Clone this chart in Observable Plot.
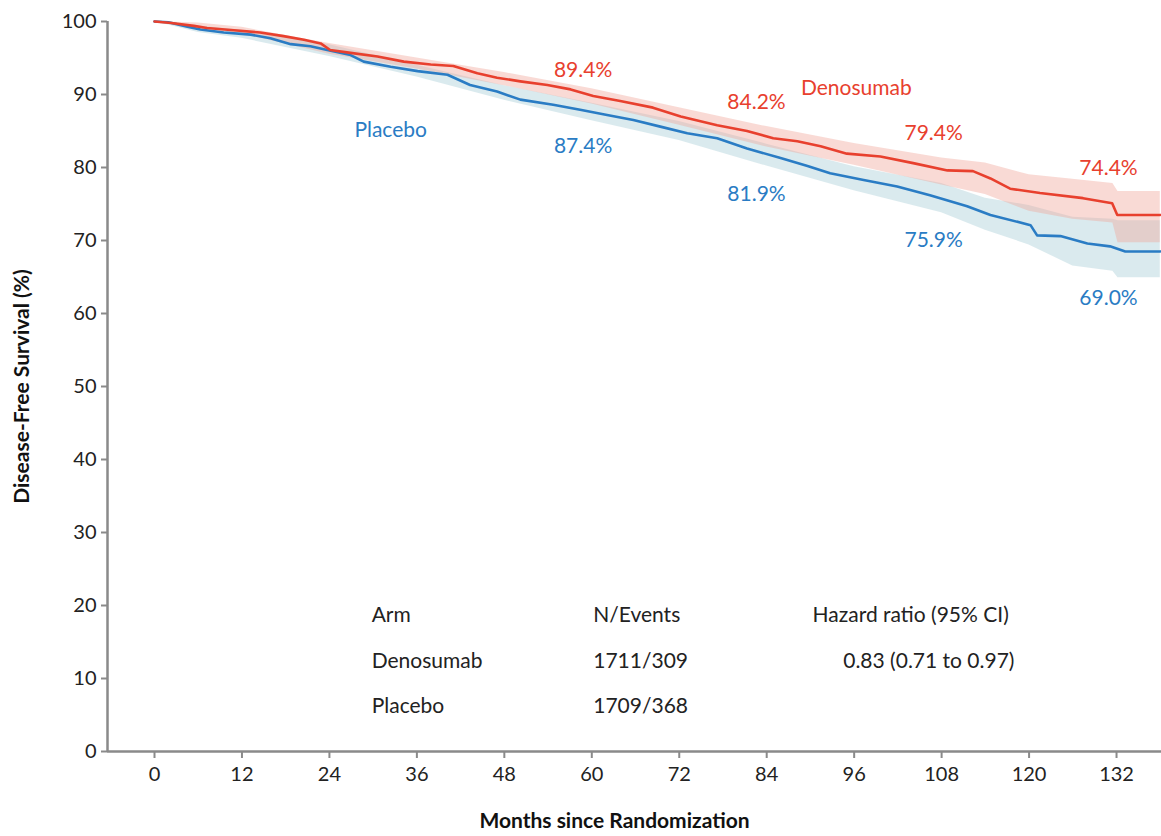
<!DOCTYPE html>
<html>
<head>
<meta charset="utf-8">
<script src="https://cdn.jsdelivr.net/npm/d3@7"></script>
<script src="https://cdn.jsdelivr.net/npm/@observablehq/plot@0.6"></script>
<style>
  html, body { margin: 0; padding: 0; background: #fff; }
  #chart svg { display: block; }
</style>
</head>
<body>
<div id="chart"></div>
<script>
// ---- Data ----
const denoMonths = [0, 2.3, 5.4, 7.2, 10.9, 14.5, 17.7, 20.5, 22.8, 24.1, 26.9, 30.6, 34.2, 37.9, 41.0, 44.3, 47.0, 50.2, 53.9, 57.1, 60.2, 63.9, 68.4, 72.2, 77.2, 81.3, 84.9, 88.2, 91.4, 95.0, 99.6, 104.1, 108.8, 112.3, 114.7, 117.4, 121.5, 127.4, 131.4, 132.1, 138];
const denoSurv   = [100, 99.8, 99.4, 99.1, 98.8, 98.5, 98.0, 97.5, 97.0, 96.1, 95.7, 95.2, 94.5, 94.1, 93.9, 92.9, 92.3, 91.8, 91.3, 90.7, 89.8, 89.1, 88.2, 87.0, 85.8, 85.0, 84.0, 83.6, 82.9, 81.9, 81.5, 80.6, 79.6, 79.5, 78.5, 77.1, 76.5, 75.8, 75.1, 73.5, 73.5];

const placeboMonths = [0, 1.9, 4.5, 6.3, 9.5, 13.2, 15.9, 18.7, 21.4, 23.7, 26.9, 28.7, 32.4, 36.1, 40.2, 43.3, 47.0, 50.2, 54.7, 58.4, 62.1, 65.7, 69.4, 73.1, 77.2, 81.3, 85.9, 89.6, 92.7, 97.3, 101.9, 106.4, 111.5, 114.7, 120.2, 121.1, 124.3, 128.0, 131.1, 133.2, 138];
const placeboSurv   = [100, 99.9, 99.3, 98.9, 98.5, 98.2, 97.7, 96.9, 96.6, 96.1, 95.4, 94.5, 93.8, 93.2, 92.7, 91.3, 90.4, 89.3, 88.6, 87.9, 87.2, 86.5, 85.6, 84.7, 84.0, 82.6, 81.3, 80.2, 79.2, 78.3, 77.4, 76.2, 74.7, 73.5, 72.1, 70.7, 70.6, 69.6, 69.2, 68.5, 68.5];

// 95% confidence bands
const ciMonths     = [0, 6, 12, 24, 36, 48, 60, 72, 84, 96, 108, 114, 120, 126, 131.5, 132.2, 138];
const denoLower    = [100, 99.1, 98.3, 95.5, 93.5, 91.2, 88.7, 85.8, 82.8, 80.3, 77.6, 76.3, 74.0, 72.9, 72.4, 69.7, 69.7];
const denoUpper    = [100, 99.8, 99.2, 97.0, 95.0, 93.0, 90.8, 88.2, 85.6, 83.3, 81.3, 80.6, 79.0, 78.4, 77.8, 76.7, 76.7];
const placeboLower = [100, 98.5, 97.7, 95.2, 92.4, 89.2, 86.4, 83.7, 80.2, 76.8, 73.8, 71.4, 69.4, 66.5, 65.8, 64.9, 64.9];
const placeboUpper = [100, 99.4, 98.8, 96.8, 94.0, 91.2, 88.8, 86.3, 83.2, 80.1, 77.8, 75.8, 74.8, 73.2, 72.9, 72.7, 72.7];

// Landmark annotations (month, survival position, text)
const denoLabelText  = ["89.4%", "84.2%", "79.4%", "74.4%", "Denosumab"];
const denoLabelX     = [58.8, 82.6, 106.9, 130.9, 96.3];
const denoLabelY     = [93.3, 89.0, 84.7, 79.9, 90.8];
const placeboLabelText = ["87.4%", "81.9%", "75.9%", "69.0%", "Placebo"];
const placeboLabelX    = [58.8, 82.6, 106.9, 130.9, 32.4];
const placeboLabelY    = [82.9, 76.4, 70.0, 62.1, 85.1];

// Summary table
const tableHeaders = ["Arm", "N/Events", "Hazard ratio (95% CI)"];
const tableArms    = ["Denosumab", "Placebo"];
const tableEvents  = ["1711/309", "1709/368"];
const tableHR      = ["0.83 (0.71 to 0.97)", ""];
const tableColX    = [29.8, 60.2, 90.3];
const tableHRX     = 94.5;
const tableRowY    = [18.6, 12.3, 6.2];

const xTicks = [0, 12, 24, 36, 48, 60, 72, 84, 96, 108, 120, 132];
const yTicks = [0, 10, 20, 30, 40, 50, 60, 70, 80, 90, 100];

// ---- Build tables ----
const deno = denoMonths.map((m, i) => ({m, s: denoSurv[i]}));
const placebo = placeboMonths.map((m, i) => ({m, s: placeboSurv[i]}));
const denoCI = ciMonths.map((m, i) => ({m, lo: denoLower[i], hi: denoUpper[i]}));
const placeboCI = ciMonths.map((m, i) => ({m, lo: placeboLower[i], hi: placeboUpper[i]}));
const denoLabels = denoLabelText.map((t, i) => ({t, x: denoLabelX[i], y: denoLabelY[i]}));
const placeboLabels = placeboLabelText.map((t, i) => ({t, x: placeboLabelX[i], y: placeboLabelY[i]}));

const tableCells = [];
tableHeaders.forEach((t, i) => tableCells.push({t, x: tableColX[i], y: tableRowY[0]}));
tableArms.forEach((t, i) => tableCells.push({t, x: tableColX[0], y: tableRowY[i + 1]}));
tableEvents.forEach((t, i) => tableCells.push({t, x: tableColX[1], y: tableRowY[i + 1]}));
tableHR.forEach((t, i) => { if (t) tableCells.push({t, x: tableHRX, y: tableRowY[i + 1]}); });

const RED = "#e8402e";
const BLUE = "#2a7cc4";
const AXIS = "#8a8a8a";
const X0 = -6.45, X1 = 138.17;

const chart = Plot.plot({
  width: 1161,
  height: 836,
  marginLeft: 107,
  marginRight: 0,
  marginTop: 21,
  marginBottom: 85,
  style: {fontFamily: "Lato, 'Open Sans', sans-serif", fontSize: "19px", color: "#222", background: "#fff"},
  x: {domain: [X0, X1]},
  y: {domain: [0, 100]},
  marks: [
    Plot.areaY(placeboCI, {x: "m", y1: "lo", y2: "hi", fill: "#b5d6de", fillOpacity: 0.5}),
    Plot.areaY(denoCI, {x: "m", y1: "lo", y2: "hi", fill: "#f0a89c", fillOpacity: 0.42}),
    Plot.line(placebo, {x: "m", y: "s", stroke: BLUE, strokeWidth: 2.6}),
    Plot.line(deno, {x: "m", y: "s", stroke: RED, strokeWidth: 2.6}),
    Plot.text(denoLabels, {x: "x", y: "y", text: "t", fill: RED, fontSize: 21}),
    Plot.text(placeboLabels, {x: "x", y: "y", text: "t", fill: BLUE, fontSize: 21}),
    Plot.text(tableCells, {x: "x", y: "y", text: "t", textAnchor: "start", fill: "#222", fontSize: 21}),
    Plot.axisY({ticks: yTicks, tickSize: 6, tickPadding: 5, stroke: AXIS, strokeWidth: 2, fill: "#222", fontSize: 20, label: null}),
    Plot.axisX({ticks: xTicks, tickSize: 7, tickPadding: 8, stroke: AXIS, strokeWidth: 2, fill: "#222", fontSize: 20, label: null}),
    Plot.ruleX([X0], {stroke: AXIS, strokeWidth: 2.5}),
    Plot.ruleY([0], {stroke: AXIS, strokeWidth: 2.5, x1: X0, x2: X1}),
    Plot.text(["Disease-Free Survival (%)"], {frameAnchor: "left", textAnchor: "middle", dx: -85, rotate: -90, fontWeight: "bold", fontSize: 21, fill: "#111"}),
    Plot.text(["Months since Randomization"], {frameAnchor: "bottom", textAnchor: "middle", dx: -20, dy: 76, fontWeight: "bold", fontSize: 21, fill: "#111"})
  ]
});
document.getElementById("chart").appendChild(chart);
</script>
</body>
</html>
